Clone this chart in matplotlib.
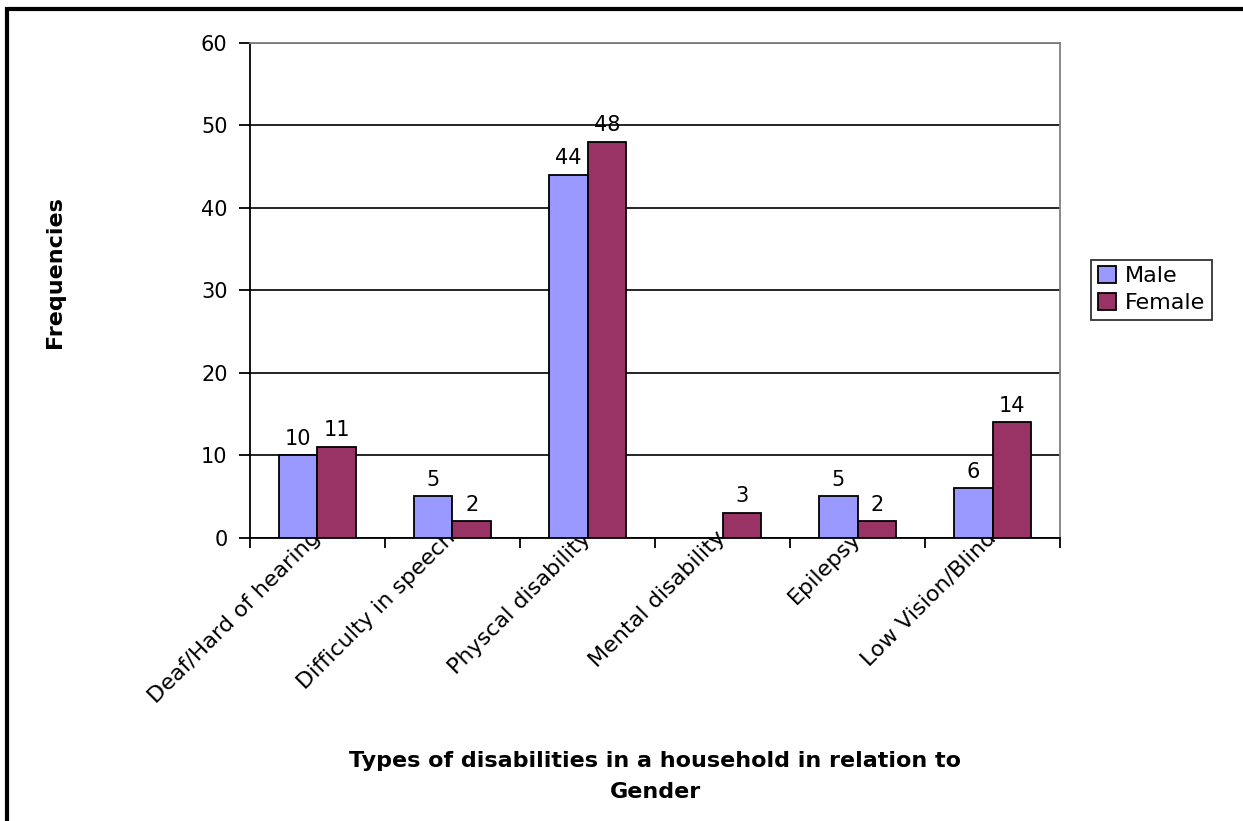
import matplotlib.pyplot as plt
import numpy as np
from matplotlib.patches import Rectangle

categories = ["Deaf/Hard of hearing", "Difficulty in speech", "Physcal disability",
              "Mental disability", "Epilepsy", "Low Vision/Blind"]
male = [10, 5, 44, 0, 5, 6]
female = [11, 2, 48, 3, 2, 14]
series_names = ["Male", "Female"]
colors = ["#9999FF", "#993366"]

plt.rcParams["font.family"] = ["DejaVu Sans"]

fig = plt.figure(figsize=(12.43, 8.21), dpi=100)
ax = fig.add_axes([0.201, 0.345, 0.652, 0.603])

x = np.arange(len(categories))
w = 0.285
for i, (vals, name, c) in enumerate(zip([male, female], series_names, colors)):
    pos = x + (i - 0.5) * w
    bars = ax.bar(pos, vals, w, color=c, edgecolor="black", linewidth=1.3,
                  label=name, zorder=3)
    for b, v in zip(bars, vals):
        if v:
            ax.text(b.get_x() + b.get_width() / 2, v + 0.8, str(v),
                    ha="center", va="bottom", fontsize=15)

ax.set_xlim(-0.5, len(categories) - 0.5)
ax.set_ylim(0, 60)
ax.set_yticks(range(0, 61, 10))
ax.tick_params(axis="y", labelsize=15, length=8, width=1.3, direction="out", pad=8)
ax.yaxis.grid(True, color="black", linewidth=1.2, zorder=0)

ax.set_xticks(x)
ax.set_xticklabels(categories, rotation=45, ha="right", va="center",
                   rotation_mode="anchor", fontsize=16)
ax.tick_params(axis="x", length=0, pad=-2)
ax.set_xticks(np.arange(-0.5, len(categories)), minor=True)
ax.tick_params(axis="x", which="minor", length=7, width=1.3, direction="out")

for s in ["left", "bottom"]:
    ax.spines[s].set_color("black")
    ax.spines[s].set_linewidth(1.3)
for s in ["top", "right"]:
    ax.spines[s].set_color("#808080")
    ax.spines[s].set_linewidth(1.3)

fig.text(0.044, 0.669, "Frequencies", rotation=90, ha="center", va="center",
         fontsize=16, fontweight="bold")
fig.text(0.527, 0.054, "Types of disabilities in a household in relation to\nGender",
         ha="center", va="center", fontsize=16, fontweight="bold", linespacing=1.7)

leg = ax.legend(loc="center left", bbox_to_anchor=(0.869, 0.647),
                bbox_transform=fig.transFigure, fontsize=16, frameon=True,
                fancybox=False, edgecolor="black", handlelength=0.8,
                handleheight=0.8, handletextpad=0.4, borderpad=0.3,
                labelspacing=0.3)
leg.get_frame().set_linewidth(1.3)

fig.patches.append(Rectangle((0.0055, -0.1), 1.2, 1.089, transform=fig.transFigure,
                             fill=False, edgecolor="black", linewidth=3))

fig.savefig("out.png", dpi=100)
